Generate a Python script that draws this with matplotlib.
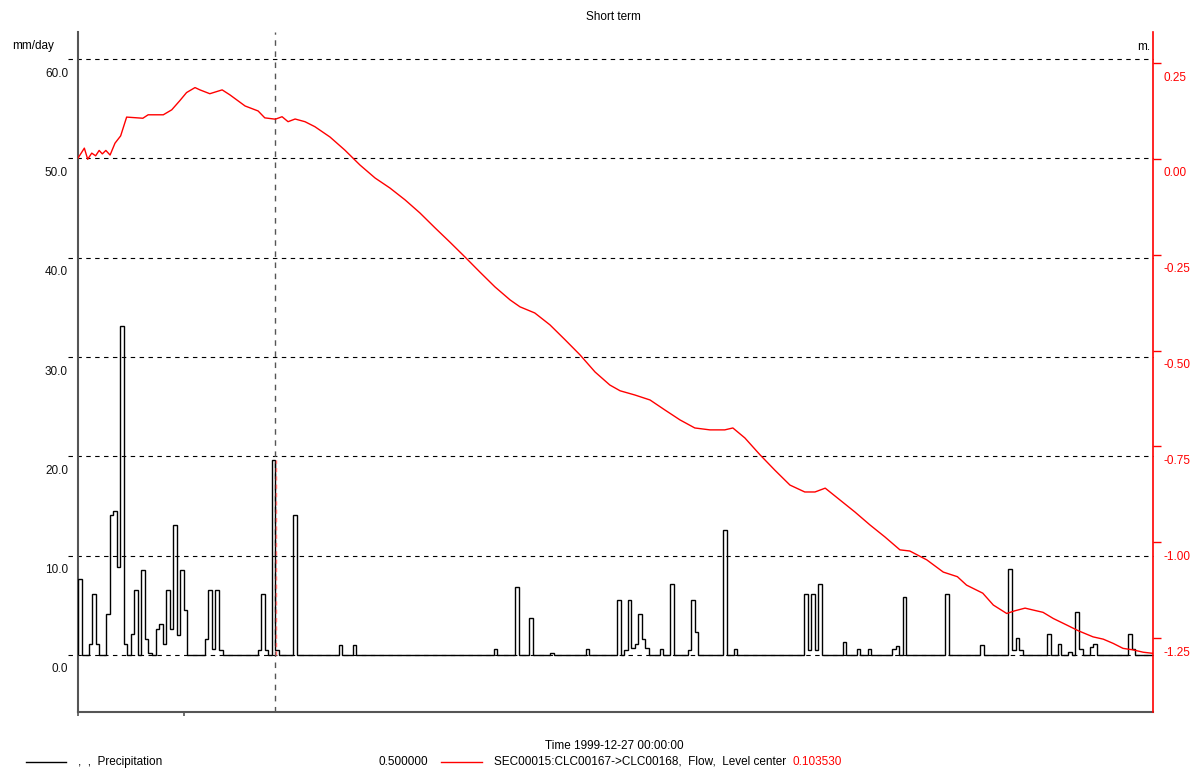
import datetime as dt
import numpy as np
import matplotlib
matplotlib.use('Agg')
import matplotlib.pyplot as plt
import matplotlib.transforms as mtransforms
import matplotlib.ticker as mticker
from matplotlib.lines import Line2D

plt.rcParams.update({
    'font.family': ['Liberation Sans', 'DejaVu Sans'],
    'font.size': 8.5,
    'axes.unicode_minus': False,
})

start = dt.date(1999, 11, 1)
ndays = 305
cursor_day = 56

# daily precipitation (mm/day), every day not listed is dry
rain_day = [0, 3, 4, 5, 8, 9, 10, 11, 12, 13, 15, 16, 18, 19, 20, 22, 23, 24,
            25, 26, 27, 28, 29, 30, 36, 37, 38, 39, 40, 51, 52, 53, 55, 56, 61,
            74, 78, 118, 124, 128, 134, 144, 153, 155, 156, 157, 158, 159, 160,
            161, 165, 168, 173, 174, 175, 183, 186, 206, 207, 208, 209, 210,
            217, 221, 224, 231, 232, 234, 246, 256, 264, 265, 266, 267, 275,
            278, 281, 283, 284, 287, 288, 298, 299]
rain_mm = [7.6, 1.1, 6.1, 1.1, 4.1, 14.1, 14.5, 8.9, 33.1, 1.1, 2.1, 6.5, 8.6,
           1.6, 0.2, 2.6, 3.1, 1.1, 6.5, 2.6, 13.1, 2.0, 8.6, 4.5, 1.6, 6.5,
           0.6, 6.5, 0.5, 0.5, 6.1, 0.5, 19.6, 0.5, 14.1, 1.0, 1.0, 0.6, 6.8,
           3.7, 0.15, 0.6, 5.5, 0.5, 5.5, 0.7, 1.1, 4.1, 1.6, 0.7, 0.6, 7.1,
           0.5, 5.5, 2.3, 12.6, 0.6, 6.1, 0.5, 6.1, 0.5, 7.1, 1.3, 0.6, 0.6,
           0.6, 0.9, 5.8, 6.1, 1.0, 8.7, 0.5, 1.7, 0.5, 2.1, 1.1, 0.3, 4.3,
           0.6, 0.8, 1.1, 2.1, 0.6]

# water level, level center (m)
level_day = [0, 1.8, 2.75, 3.9, 5.0, 6.0, 6.9, 7.9, 9.1, 10.5, 12.1, 13.8, 18.4,
             19.9, 24.2, 26.6, 28.9, 30.8, 33.2, 34.6, 37.4, 40.9, 43.1, 47.4,
             51.1, 53.0, 56.0, 57.9, 59.6, 61.6, 64.4, 67.2, 71.5, 75.7, 80.0,
             84.3, 88.5, 92.8, 97.0, 101.3, 105.5, 109.8, 114.0, 118.3, 122.6,
             125.4, 129.6, 133.9, 138.2, 142.4, 146.7, 150.9, 153.8, 158.0,
             162.3, 166.5, 170.8, 175.0, 179.3, 183.5, 185.8, 189.2, 193.5,
             197.7, 202.0, 206.2, 209.1, 212.0, 216.2, 220.4, 224.7, 228.9,
             233.2, 236.0, 240.8, 245.5, 249.5, 252.1, 256.7, 259.7, 263.5,
             265.8, 268.7, 271.0, 273.8, 276.7, 280.5, 283.8, 288.0, 290.9,
             293.7, 296.5, 299.4, 302.2, 305.0]
level_m = [0.002, 0.028, -0.001, 0.015, 0.008, 0.022, 0.013, 0.022, 0.010,
           0.041, 0.060, 0.109, 0.106, 0.115, 0.115, 0.128, 0.152, 0.173,
           0.186, 0.180, 0.170, 0.180, 0.167, 0.138, 0.125, 0.107, 0.10353,
           0.110, 0.097, 0.104, 0.097, 0.084, 0.057, 0.023, -0.016, -0.050,
           -0.076, -0.107, -0.141, -0.180, -0.217, -0.256, -0.295, -0.334,
           -0.368, -0.386, -0.402, -0.433, -0.472, -0.511, -0.556, -0.590,
           -0.605, -0.616, -0.629, -0.655, -0.681, -0.702, -0.707, -0.707,
           -0.702, -0.728, -0.772, -0.812, -0.851, -0.869, -0.869, -0.859,
           -0.890, -0.921, -0.955, -0.986, -1.020, -1.023, -1.046, -1.078,
           -1.090, -1.112, -1.133, -1.164, -1.186, -1.179, -1.172, -1.177,
           -1.183, -1.199, -1.216, -1.231, -1.247, -1.253, -1.264, -1.277,
           -1.281, -1.287, -1.290]

left_ticks = [0, 10, 20, 30, 40, 50, 60]
right_ticks = [0.25, 0.0, -0.25, -0.5, -0.75, -1.0, -1.25]

precip = np.zeros(ndays)
precip[rain_day] = rain_mm
edges = np.arange(ndays + 1)

fig = plt.figure(figsize=(11.94, 7.71), dpi=100)
ax = fig.add_axes([78 / 1194, 59 / 771, 1075 / 1194, 680 / 771])
ax2 = ax.twinx()

ax.set_xlim(0, ndays)
ax.set_ylim(-5.74, 62.72)
ax2.set_ylim(-1.443, 0.331)

# dashed grid, running a little past the left spine
for v in left_ticks:
    ax.axhline(v, xmin=-10 / 1075, xmax=1, color='black', lw=0.8,
               ls=(0, (4, 4)), clip_on=False, zorder=1)

ax.stairs(precip, edges, baseline=0, color='black', lw=1.0, zorder=3)

# cursor
ax.axvline(cursor_day, color='#555555', lw=1.0, ls=(0, (4, 4)), zorder=2)
ax.vlines(cursor_day + 0.25, 0, precip[cursor_day - 1], colors='#ff7070',
          lw=1.0, ls=(0, (3, 3)), zorder=4)

ax2.plot(level_day, level_m, color='red', lw=1.0)

# left axis
ax.set_yticks(left_ticks)
ax.yaxis.set_major_formatter(mticker.FormatStrFormatter('%.1f'))
ax.tick_params(axis='y', length=0, pad=7.2, labelcolor='#111111')
ax.set_xticks([0, 30])
ax.set_xticklabels([])
ax.tick_params(axis='x', length=3, width=1.2, color='#555555')
for s in ['top', 'right']:
    ax.spines[s].set_visible(False)
for s in ['left', 'bottom']:
    ax.spines[s].set_color('#555555')
    ax.spines[s].set_linewidth(1.5)

# right axis
ax2.set_yticks(right_ticks)
ax2.yaxis.set_major_formatter(mticker.FormatStrFormatter('%.2f'))
ax2.tick_params(axis='y', length=6, width=1.0, color='red', labelcolor='red',
                pad=1.5)
for s in ['top', 'left', 'bottom']:
    ax2.spines[s].set_visible(False)
ax2.spines['right'].set_color('red')
ax2.spines['right'].set_linewidth(1.2)

# tick labels sit just below their ticks
shift = mtransforms.ScaledTranslation(0, -13 / 100, fig.dpi_scale_trans)
for lab in ax.get_yticklabels() + ax2.get_yticklabels():
    lab.set_transform(lab.get_transform() + shift)


def fy(py):
    return 1 - py / 771


fig.text(613 / 1194, fy(17), 'Short term', ha='center', va='center')
fig.text(12 / 1194, fy(46), 'mm/day', ha='left', va='center')
fig.text(1137 / 1194, fy(47), 'm.', ha='left', va='center')

cursor_date = start + dt.timedelta(days=cursor_day)
fig.text(614 / 1194, fy(746),
         'Time {} 00:00:00'.format(cursor_date.strftime('%Y-%m-%d')),
         ha='center', va='center')

# legend row
fig.add_artist(Line2D([26 / 1194, 66 / 1194], [fy(762), fy(762)],
                      color='black', lw=1.0))
fig.text(78 / 1194, fy(762), ',  ,  Precipitation', ha='left', va='center')
fig.text(428 / 1194, fy(762), '{:.6f}'.format(precip[cursor_day]),
         ha='right', va='center')
fig.add_artist(Line2D([441 / 1194, 482 / 1194], [fy(762), fy(762)],
                      color='red', lw=1.0))
lbl = fig.text(494 / 1194, fy(762),
               'SEC00015:CLC00167->CLC00168,  Flow,  Level center ',
               ha='left', va='center')
cursor_level = level_m[level_day.index(cursor_day)]
ax.annotate('{:.6f}'.format(cursor_level), xy=(1, 0.5), xycoords=lbl,
            xytext=(2, 0), textcoords='offset points',
            ha='left', va='center', color='red', annotation_clip=False)

fig.savefig('out.png', dpi=100)
